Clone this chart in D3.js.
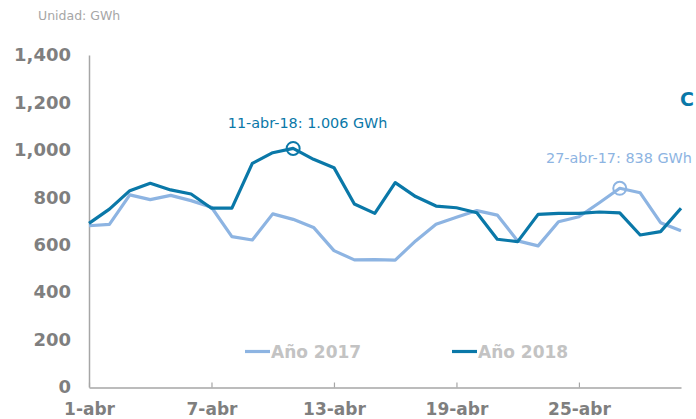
<!DOCTYPE html>
<html>
<head>
<meta charset="utf-8">
<script src="https://cdn.jsdelivr.net/npm/d3@7"></script>
<style>
  body { margin: 0; background: #fff; }
  svg { display: block; font-family: "DejaVu Sans", Verdana, sans-serif; }
</style>
</head>
<body>
<svg id="chart"></svg>
<script>
// data (GWh per day of April)
const days = [1,2,3,4,5,6,7,8,9,10,11,12,13,14,15,16,17,18,19,20,21,22,23,24,25,26,27,28,29,30];
const values2017 = [680,686,810,790,808,786,758,634,620,730,707,673,575,536,537,535,616,686,716,744,725,616,595,697,718,777,838,819,693,659];
const values2018 = [690,750,828,859,831,814,754,754,943,988,1006,960,925,772,732,862,803,763,756,735,623,613,728,732,732,738,734,641,655,754];
const xTickValues = [1,7,13,19,25];
const xTickLabels = ["1-abr","7-abr","13-abr","19-abr","25-abr"];
const yTickValues = [0,200,400,600,800,1000,1200,1400];

const width = 696, height = 419;
const dark = "#0a78a8", light = "#8db4e2";

let svg = d3.select("#chart")
  .attr("width", width)
  .attr("height", height);

let x = d3.scaleLinear().domain([1, 30]).range([89, 681]);
let y = d3.scaleLinear().domain([0, 1400]).range([387, 55]);

// unit label
svg.append("text")
  .attr("x", 38).attr("y", 20)
  .attr("font-size", 12.5)
  .attr("fill", "#a6a6a6")
  .text("Unidad: GWh");

// title (only its first letter is visible in the original)
svg.append("text")
  .attr("x", 680).attr("y", 106)
  .attr("font-size", 19)
  .attr("font-weight", "bold")
  .attr("fill", dark)
  .text("C");

// y axis
let yAxis = svg.append("g")
  .attr("transform", "translate(89,0)")
  .call(d3.axisLeft(y).tickValues(yTickValues).tickSize(0).tickPadding(18).tickFormat(d3.format(",")));

// x axis
let xAxis = svg.append("g")
  .attr("transform", "translate(0,387.5)")
  .call(d3.axisBottom(x).tickValues(xTickValues).tickSizeInner(-5).tickSizeOuter(0).tickPadding(15)
    .tickFormat((d, i) => xTickLabels[i]));

[yAxis, xAxis].forEach((g) => {
  g.select(".domain").attr("stroke", "#a6a6a6").attr("stroke-width", 1.5);
  g.selectAll(".tick line").attr("stroke", "#a6a6a6").attr("stroke-width", 1.2);
  g.selectAll(".tick text")
    .attr("font-family", "DejaVu Sans, Verdana, sans-serif")
    .attr("font-size", 17)
    .attr("font-weight", "bold")
    .attr("fill", "#7f7f7f");
});
yAxis.selectAll(".tick text").attr("font-size", 18);

let line = d3.line()
  .x((d, i) => x(days[i]))
  .y((d) => y(d));

svg.append("path")
  .datum(values2017)
  .attr("d", line)
  .attr("fill", "none")
  .attr("stroke", light)
  .attr("stroke-width", 3.2)
  .attr("stroke-linejoin", "round");

svg.append("path")
  .datum(values2018)
  .attr("d", line)
  .attr("fill", "none")
  .attr("stroke", dark)
  .attr("stroke-width", 3.2)
  .attr("stroke-linejoin", "round");

// highlighted maxima
let maxIdx2018 = d3.maxIndex(values2018);
let maxIdx2017 = d3.maxIndex(values2017);

svg.append("circle")
  .attr("cx", x(days[maxIdx2018])).attr("cy", y(values2018[maxIdx2018]))
  .attr("r", 6.5)
  .attr("fill", "none").attr("stroke", dark).attr("stroke-width", 2);

svg.append("text")
  .attr("x", x(days[maxIdx2018]) + 14.5).attr("y", 128)
  .attr("text-anchor", "middle")
  .attr("font-size", 14.4)
  .attr("fill", dark)
  .text(days[maxIdx2018] + "-abr-18: " + d3.format(",")(values2018[maxIdx2018]).replace(",", ".") + " GWh");

svg.append("circle")
  .attr("cx", x(days[maxIdx2017])).attr("cy", y(values2017[maxIdx2017]))
  .attr("r", 6.5)
  .attr("fill", "none").attr("stroke", light).attr("stroke-width", 2);

svg.append("text")
  .attr("x", 546).attr("y", 163)
  .attr("font-size", 14.4)
  .attr("fill", light)
  .text(days[maxIdx2017] + "-abr-17: " + values2017[maxIdx2017] + " GWh");

// legend
let legend = [
  {label: "Año 2017", color: light, x: 245},
  {label: "Año 2018", color: dark, x: 452}
];

legend.forEach((l) => {
  svg.append("line")
    .attr("x1", l.x).attr("x2", l.x + 25)
    .attr("y1", 351.5).attr("y2", 351.5)
    .attr("stroke", l.color).attr("stroke-width", 3.2);
  svg.append("text")
    .attr("x", l.x + 26).attr("y", 358)
    .attr("font-size", 17)
    .attr("font-weight", "bold")
    .attr("fill", "#c3c3c3")
    .text(l.label);
});
</script>
</body>
</html>
